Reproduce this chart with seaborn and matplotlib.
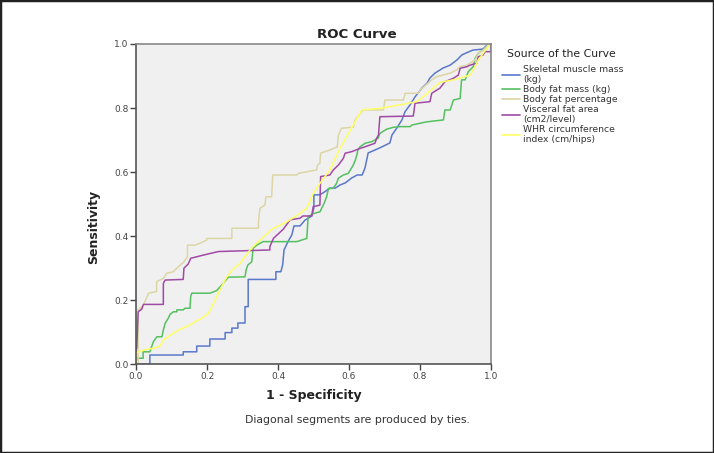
import matplotlib
matplotlib.use("Agg")
import matplotlib.pyplot as plt
import seaborn as sns
import pandas as pd
from matplotlib.lines import Line2D
from matplotlib.patches import Rectangle

# ---- data: ROC curve vertices (1 - specificity, sensitivity) ----
series_names = [
    "Skeletal muscle mass\n(kg)",
    "Body fat mass (kg)",
    "Body fat percentage",
    "Visceral fat area\n(cm2/level)",
    "WHR circumference\nindex (cm/hips)",
]
series_colors = ["#5a78cc", "#55c060", "#dcd6a6", "#a04aa6", "#ffff66"]

skeletal_pts = [(0, 0), (0.039, 0), (0.039, 0.029), (0.133, 0.029), (0.133, 0.039), (0.171, 0.039),
                (0.171, 0.057), (0.208, 0.057), (0.208, 0.079), (0.251, 0.079), (0.251, 0.099),
                (0.270, 0.099), (0.270, 0.113), (0.287, 0.113), (0.287, 0.129), (0.307, 0.129),
                (0.307, 0.180), (0.316, 0.180), (0.316, 0.265), (0.394, 0.265), (0.394, 0.289),
                (0.408, 0.289), (0.413, 0.310), (0.417, 0.357), (0.428, 0.383), (0.439, 0.404),
                (0.445, 0.432), (0.462, 0.432), (0.476, 0.450), (0.495, 0.463), (0.501, 0.488),
                (0.501, 0.529), (0.518, 0.529), (0.532, 0.539), (0.546, 0.550), (0.561, 0.550),
                (0.575, 0.560), (0.589, 0.566), (0.608, 0.582), (0.623, 0.591), (0.637, 0.591),
                (0.645, 0.613), (0.654, 0.660), (0.673, 0.669), (0.693, 0.679), (0.715, 0.691),
                (0.721, 0.716), (0.735, 0.738), (0.749, 0.763), (0.758, 0.789), (0.772, 0.810),
                (0.786, 0.835), (0.806, 0.863), (0.820, 0.878), (0.828, 0.894), (0.842, 0.909),
                (0.865, 0.925), (0.885, 0.934), (0.904, 0.950), (0.918, 0.966), (0.932, 0.973),
                (0.949, 0.981), (0.977, 0.984), (0.989, 0.997), (1.0, 1.0)]

bodyfat_mass_pts = [(0, 0), (0.002, 0.019), (0.020, 0.019), (0.020, 0.039), (0.039, 0.039),
                    (0.044, 0.055), (0.049, 0.071), (0.059, 0.086), (0.073, 0.086), (0.077, 0.107),
                    (0.082, 0.128), (0.091, 0.144), (0.096, 0.156), (0.105, 0.164), (0.115, 0.164),
                    (0.115, 0.170), (0.133, 0.170), (0.138, 0.175), (0.152, 0.175), (0.154, 0.211),
                    (0.157, 0.222), (0.208, 0.222), (0.227, 0.230), (0.246, 0.253), (0.260, 0.272),
                    (0.307, 0.273), (0.310, 0.294), (0.315, 0.310), (0.326, 0.320), (0.330, 0.362),
                    (0.340, 0.372), (0.358, 0.383), (0.453, 0.383), (0.481, 0.393), (0.485, 0.461),
                    (0.501, 0.471), (0.518, 0.476), (0.523, 0.487), (0.530, 0.503), (0.537, 0.523),
                    (0.542, 0.549), (0.555, 0.549), (0.565, 0.565), (0.570, 0.581), (0.584, 0.591),
                    (0.598, 0.596), (0.612, 0.622), (0.618, 0.638), (0.622, 0.653), (0.625, 0.669),
                    (0.631, 0.679), (0.645, 0.690), (0.664, 0.695), (0.682, 0.706), (0.687, 0.721),
                    (0.706, 0.734), (0.725, 0.740), (0.744, 0.742), (0.772, 0.742), (0.777, 0.747),
                    (0.819, 0.757), (0.866, 0.763), (0.870, 0.794), (0.885, 0.794), (0.894, 0.825),
                    (0.913, 0.830), (0.917, 0.888), (0.927, 0.888), (0.936, 0.914), (0.950, 0.929),
                    (0.955, 0.955), (0.964, 0.971), (0.977, 0.981), (0.988, 0.992), (1.0, 1.0)]

bodyfat_pct_pts = [(0, 0), (0.006, 0), (0.006, 0.170), (0.021, 0.185), (0.025, 0.195), (0.035, 0.222),
                   (0.058, 0.227), (0.058, 0.258), (0.077, 0.268), (0.086, 0.284), (0.105, 0.289),
                   (0.115, 0.300), (0.124, 0.310), (0.133, 0.317), (0.145, 0.336), (0.145, 0.372),
                   (0.166, 0.372), (0.180, 0.378), (0.190, 0.383), (0.199, 0.388), (0.199, 0.393),
                   (0.270, 0.393), (0.270, 0.425), (0.345, 0.425), (0.345, 0.445), (0.349, 0.487),
                   (0.363, 0.497), (0.366, 0.523), (0.382, 0.523), (0.385, 0.591), (0.453, 0.591),
                   (0.457, 0.596), (0.481, 0.601), (0.509, 0.607), (0.511, 0.622), (0.518, 0.628),
                   (0.520, 0.659), (0.532, 0.664), (0.546, 0.669), (0.567, 0.679), (0.570, 0.716),
                   (0.579, 0.737), (0.612, 0.740), (0.617, 0.763), (0.636, 0.789), (0.640, 0.794),
                   (0.697, 0.794), (0.701, 0.825), (0.753, 0.825), (0.758, 0.846), (0.795, 0.846),
                   (0.800, 0.856), (0.833, 0.888), (0.847, 0.898), (0.885, 0.909), (0.903, 0.919),
                   (0.913, 0.929), (0.932, 0.934), (0.955, 0.950), (0.964, 0.971), (0.978, 0.981),
                   (0.992, 0.997), (1.0, 1.0)]

visceral_pts = [(0, 0), (0, 0.050), (0.002, 0.050), (0.006, 0.164), (0.016, 0.172), (0.021, 0.187),
                (0.077, 0.187), (0.077, 0.253), (0.082, 0.263), (0.133, 0.265), (0.135, 0.300),
                (0.147, 0.313), (0.154, 0.331), (0.190, 0.341), (0.232, 0.352), (0.377, 0.357),
                (0.377, 0.367), (0.387, 0.393), (0.415, 0.422), (0.434, 0.451), (0.462, 0.456),
                (0.470, 0.463), (0.495, 0.463), (0.499, 0.492), (0.518, 0.497), (0.520, 0.586),
                (0.546, 0.591), (0.556, 0.607), (0.570, 0.622), (0.584, 0.643), (0.589, 0.659),
                (0.608, 0.664), (0.631, 0.674), (0.645, 0.679), (0.673, 0.690), (0.678, 0.706),
                (0.683, 0.716), (0.687, 0.773), (0.781, 0.775), (0.786, 0.815), (0.828, 0.820),
                (0.833, 0.846), (0.847, 0.856), (0.856, 0.862), (0.870, 0.882), (0.894, 0.893),
                (0.908, 0.903), (0.913, 0.924), (0.932, 0.929), (0.941, 0.934), (0.960, 0.940),
                (0.964, 0.960), (0.978, 0.966), (0.983, 0.976), (1.0, 0.976), (1.0, 1.0)]

whr_pts = [(0, 0), (0, 0.036), (0.025, 0.045), (0.049, 0.050), (0.068, 0.057), (0.077, 0.076),
           (0.105, 0.097), (0.124, 0.109), (0.152, 0.123), (0.185, 0.144), (0.204, 0.159),
           (0.223, 0.201), (0.241, 0.242), (0.256, 0.273), (0.270, 0.294), (0.293, 0.315),
           (0.321, 0.357), (0.340, 0.378), (0.382, 0.421), (0.425, 0.445), (0.462, 0.471),
           (0.481, 0.487), (0.499, 0.532), (0.518, 0.565), (0.546, 0.607), (0.575, 0.675),
           (0.636, 0.794), (0.687, 0.799), (0.744, 0.810), (0.791, 0.820), (0.809, 0.835),
           (0.856, 0.880), (0.894, 0.888), (0.927, 0.898), (0.941, 0.903), (0.955, 0.929),
           (0.964, 0.950), (0.978, 0.971), (0.997, 1.0), (1.0, 1.0)]

tick_values = [0.0, 0.2, 0.4, 0.6, 0.8, 1.0]
tick_labels = ["0.0", "0.2", "0.4", "0.6", "0.8", "1.0"]

# ---- build long table ----
all_pts = [skeletal_pts, bodyfat_mass_pts, bodyfat_pct_pts, visceral_pts, whr_pts]
rows = []
for name, pts in zip(series_names, all_pts):
    for i, (x, y) in enumerate(pts):
        rows.append({"series": name, "order": i, "fpr": x, "tpr": y})
df = pd.DataFrame(rows)
palette = dict(zip(series_names, series_colors))

sns.set_theme(style="white")
plt.rcParams["font.family"] = ["DejaVu Sans"]

fig = plt.figure(figsize=(7.14, 4.53), dpi=100)
fig.patch.set_facecolor("white")
ax = fig.add_axes([0.1905, 0.1958, 0.4972, 0.7071])
ax.set_facecolor("#f0f0f0")

sns.lineplot(data=df, x="fpr", y="tpr", hue="series", units="series", estimator=None,
             sort=False, palette=palette, linewidth=1.1, legend=False, ax=ax,
             hue_order=series_names)

ax.set_xlim(0, 1)
ax.set_ylim(0, 1)
ax.set_xticks(tick_values)
ax.set_xticklabels(tick_labels)
ax.set_yticks(tick_values)
ax.set_yticklabels(tick_labels)
ax.tick_params(axis="both", direction="out", length=4, width=1, color="#444444",
               labelsize=6.5, labelcolor="#444444", pad=1.5)
ax.tick_params(bottom=True, left=True)
for side in ["left", "bottom"]:
    ax.spines[side].set_color("#555555")
    ax.spines[side].set_linewidth(1.2)
for side in ["top", "right"]:
    ax.spines[side].set_color("#888888")
    ax.spines[side].set_linewidth(1.2)

ax.set_xlabel("1 - Specificity", fontsize=9, fontweight="bold", color="#222222", labelpad=6)
ax.set_ylabel("Sensitivity", fontsize=9, fontweight="bold", color="#222222")
ax.yaxis.set_label_coords(-0.101, 0.43)

fig.text(0.5, 1 - 37.5 / 453, "ROC Curve", ha="center", va="baseline", fontsize=9.6,
         fontweight="bold", color="#222222")
fig.text(0.5, 0.073, "Diagonal segments are produced by ties.", ha="center", va="center",
         fontsize=7.8, color="#333333")

fig.text(507 / 714, 1 - 54 / 453, "Source of the Curve", ha="left", va="center",
         fontsize=7.8, color="#222222")
handles = [Line2D([0], [0], color=c, lw=1.2) for c in series_colors]
leg = fig.legend(handles, series_names, loc="upper left",
                 bbox_to_anchor=(500 / 714, 1 - 63 / 453),
                 frameon=False, fontsize=6.7, handlelength=1.95, handletextpad=0.3,
                 labelspacing=0.12, borderpad=0.2, borderaxespad=0)
for t in leg.get_texts():
    t.set_color("#333333")
    t.set_linespacing(1.12)

fig.add_artist(Rectangle((0, 0), 1, 1, transform=fig.transFigure, fill=False,
                         edgecolor="#222222", linewidth=2.5, clip_on=False))

fig.savefig("out.png", dpi=100)
